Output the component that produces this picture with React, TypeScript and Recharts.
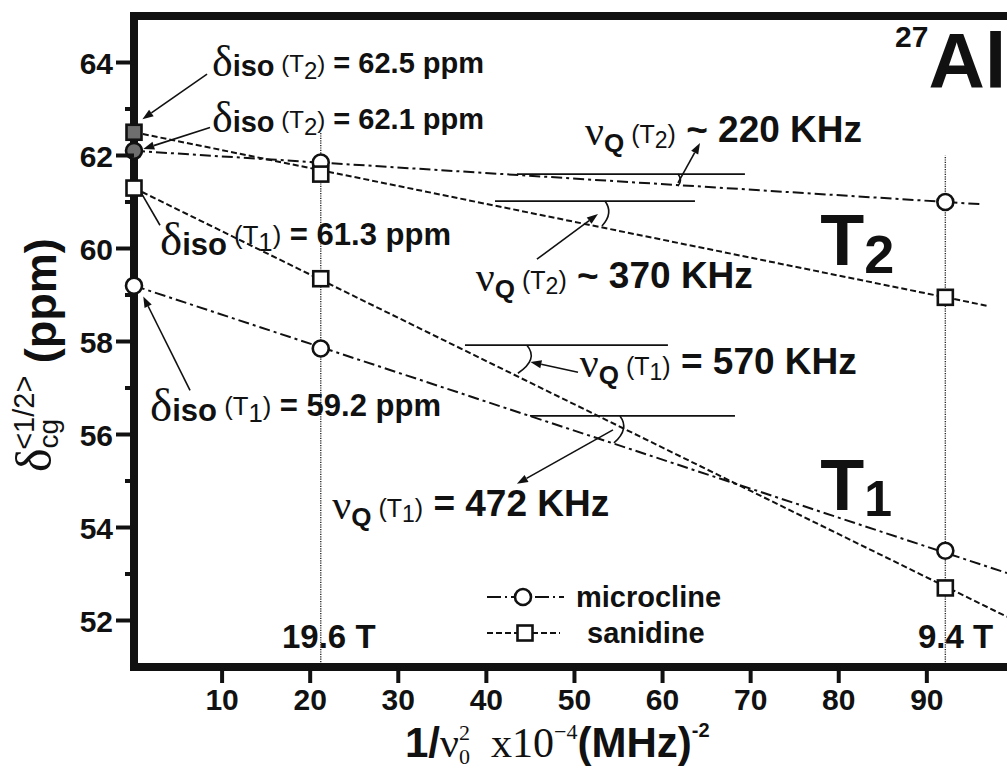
import React from 'react';
import {
  ComposedChart,
  Line,
  Scatter,
  XAxis,
  YAxis,
  ReferenceLine,
  ReferenceDot,
  Legend,
} from 'recharts';

const SANS = '"Liberation Sans", Arial, Helvetica, sans-serif';
const SERIF = '"Liberation Serif", "Times New Roman", serif';
const INK = '#111111';
const GREY = '#6e6e6e';

// 1/nu0^2 (x10^-4 MHz^-2): infinite field, 19.6 T, 9.4 T
const invField = [0, 21.2, 92.1];
const fieldNames = ['19.6 T', '9.4 T'];
const fieldLineTop = [62.5, 62.0];

// centre of gravity shifts (ppm)
const microclineT1 = [59.2, 57.85, 53.5];
const microclineT2 = [62.1, 61.85, 61.0];
const sanidineT1 = [61.3, 59.35, 52.7];
const sanidineT2 = [62.5, 61.6, 58.95];

// straight-line fits (end points)
const fitMicT1X = [0, 99.1];
const fitMicT1Y = [59.2, 53.02];
const fitMicT2X = [0, 96.4];
const fitMicT2Y = [62.1, 60.95];
const fitSanT1X = [0, 99.1];
const fitSanT1Y = [61.3, 52.08];
const fitSanT2X = [0, 96.8];
const fitSanT2Y = [62.5, 58.77];

const xTicks = [10, 20, 30, 40, 50, 60, 70, 80, 90];
const yTicks = [52, 53, 54, 55, 56, 57, 58, 59, 60, 61, 62, 63, 64];

const DASH_DOT = '11 4 3 4';
const DASHED = '6 3';

const points = (ys: number[], filledFirst: boolean) =>
  invField.map((x, i) => ({ x, y: ys[i], filled: filledFirst && i === 0 }));
const fitLine = (xs: number[], ys: number[]) => xs.map((x, i) => ({ x, y: ys[i] }));

const CircleMark = (p: any) => (
  <circle
    cx={p.cx}
    cy={p.cy}
    r={8}
    fill={p.payload && p.payload.filled ? GREY : '#ffffff'}
    stroke={INK}
    strokeWidth={2.6}
  />
);
const SquareMark = (p: any) => (
  <rect
    x={p.cx - 7.5}
    y={p.cy - 7.5}
    width={15}
    height={15}
    fill={p.payload && p.payload.filled ? GREY : '#ffffff'}
    stroke={INK}
    strokeWidth={2.6}
  />
);

type Run = { t: string; size: number; dy?: number; serif?: boolean; weight?: string; dx?: number };

const Rich = ({ cx, cy, runs }: { cx: number; cy: number; runs: Run[] }) => (
  <text x={cx} y={cy} fill={INK} style={{ whiteSpace: 'pre' }}>
    {runs.map((r, i) => (
      <tspan
        key={i}
        y={cy + (r.dy || 0)}
        dx={r.dx}
        fontSize={r.size}
        fontFamily={r.serif ? SERIF : SANS}
        fontWeight={r.weight || 'bold'}
      >
        {r.t}
      </tspan>
    ))}
  </text>
);

const isoRuns = (site: string, value: number, shift = 0, k = 1): Run[] => [
  { t: 'δ', size: 44 * k, serif: true, weight: 'normal', dy: 0 },
  { t: 'iso', size: 29 * k, dy: 0 },
  { t: ' (T', size: 24 * k, weight: 'normal', dy: -4 - shift },
  { t: site, size: 24 * k, weight: 'normal', dy: 3 - shift },
  { t: ')', size: 24 * k, weight: 'normal', dy: -4 - shift },
  { t: ` = ${value.toFixed(1)} ppm`, size: 29 * k, dy: -3 - shift },
];

const nuRuns = (site: string, rest: string): Run[] => [
  { t: 'ν', size: 42, serif: true, weight: 'normal', dy: 3 },
  { t: 'Q', size: 26, dy: 10 },
  { t: ' (T', size: 25, weight: 'normal', dy: 1 },
  { t: site, size: 23, weight: 'normal', dy: 6 },
  { t: ')', size: 25, weight: 'normal', dy: 1 },
  { t: rest, size: 37, dy: 0 },
];

// text notes placed in data space: [x, y, runs]
const notes: [number, number, Run[]][] = [
  [8.85, 63.7, isoRuns('2', sanidineT2[0])],
  [8.85, 62.51, isoRuns('2', microclineT2[0])],
  [2.95, 59.85, isoRuns('1', sanidineT1[0], 7, 1.07)],
  [1.82, 56.3, isoRuns('1', microclineT1[0], 2, 1.07)],
  [51.2, 62.3, nuRuns('2', ' ~ 220 KHz')],
  [38.8, 59.15, nuRuns('2', ' ~ 370 KHz')],
  [50.6, 57.3, nuRuns('1', ' = 570 KHz')],
  [22.5, 54.25, nuRuns('1', ' = 472 KHz')],
  [77.9, 59.65, [{ t: 'T', size: 72 }, { t: '2', size: 54, dy: 8 }]],
  [77.9, 54.38, [{ t: 'T', size: 72 }, { t: '1', size: 50, dy: 6 }]],
  [86.4, 63.46, [{ t: '27', size: 30, dy: -41 }, { t: 'Al', size: 78 }]],
  [16.8, 51.41, [{ t: fieldNames[0], size: 33 }]],
  [89.0, 51.41, [{ t: fieldNames[1], size: 33 }]],
];

// pointer lines: [x1, y1, x2, y2, arrowhead]
const pointers: [number, number, number, number, boolean][] = [
  [8.29, 63.75, 0.95, 62.78, true],
  [8.63, 62.6, 1.05, 62.14, true],
  [2.95, 60.5, 0.8, 61.2, false],
  [6.36, 56.95, 1.05, 58.97, true],
  [61.75, 61.41, 64.25, 62.27, true],
  [45.74, 59.77, 52.67, 60.74, true],
  [50.4, 57.34, 45.0, 57.56, true],
  [54.37, 56.1, 43.47, 54.94, true],
];

// horizontal reference strokes for the slope angles: [xStart, xEnd, y]
const levels: [number, number, number][] = [
  [43.47, 69.35, 61.6],
  [40.98, 63.68, 61.02],
  [37.57, 60.61, 57.92],
  [44.95, 68.22, 56.4],
];

// angle arcs: [x, y, path relative to that point]
const arcs: [number, number, string][] = [
  [61.75, 61.6, 'q 5 6 0 12'],
  [53.46, 61.02, 'q 9 12 -3 25'],
  [44.6, 57.92, 'q 12 14 -9 28'],
  [55.16, 56.4, 'q 10 13 -6 27'],
];

const arrowShape = (head: boolean) => (p: any) => {
  const { x1, y1, x2, y2 } = p;
  const a = Math.atan2(y2 - y1, x2 - x1);
  const L = 11;
  const W = 4;
  const bx = x2 - L * Math.cos(a);
  const by = y2 - L * Math.sin(a);
  const pts = `${x2},${y2} ${bx - W * Math.sin(a)},${by + W * Math.cos(a)} ${bx + W * Math.sin(a)},${by - W * Math.cos(a)}`;
  return (
    <g>
      <line x1={x1} y1={y1} x2={head ? bx : x2} y2={head ? by : y2} stroke={INK} strokeWidth={1.6} />
      {head && <polygon points={pts} fill={INK} />}
    </g>
  );
};

const XTick = (p: any) => {
  const { x, y, payload } = p;
  return (
    <g>
      <line x1={x} y1={y} x2={x} y2={y + 16} stroke={INK} strokeWidth={4} />
      <text x={x} y={y + 43} textAnchor="middle" fontFamily={SANS} fontWeight="bold" fontSize={30} fill={INK}>
        {payload.value}
      </text>
    </g>
  );
};

const YTick = (p: any) => {
  const { x, y, payload } = p;
  const major = payload.value % 2 === 0;
  return (
    <g>
      <line x1={x - (major ? 18 : 9)} y1={y} x2={x} y2={y} stroke={INK} strokeWidth={4} />
      {major && (
        <text x={x - 21} y={y + 11} textAnchor="end" fontFamily={SANS} fontWeight="bold" fontSize={30} fill={INK}>
          {payload.value}
        </text>
      )}
    </g>
  );
};

const XTitle = (p: any) => {
  const vb = p.viewBox;
  const x0 = vb.x + 271;
  const y0 = vb.y + 90;
  return (
    <text x={x0} y={y0} fill={INK} style={{ whiteSpace: 'pre' }}>
      <tspan fontFamily={SANS} fontWeight="bold" fontSize={42} y={y0}>1/</tspan>
      <tspan fontFamily={SERIF} fontSize={42} y={y0}>ν</tspan>
      <tspan fontFamily={SERIF} fontSize={22} y={y0 - 17}>2</tspan>
      <tspan fontFamily={SERIF} fontSize={22} dx={-11} y={y0 + 7}>0</tspan>
      <tspan fontFamily={SERIF} fontSize={42} y={y0}>{'  x10'}</tspan>
      <tspan fontFamily={SERIF} fontSize={22} y={y0 - 18}>−4</tspan>
      <tspan fontFamily={SANS} fontWeight="bold" fontSize={42} y={y0}>(MHz)</tspan>
      <tspan fontFamily={SANS} fontWeight="bold" fontSize={20} y={y0 - 20}>-2</tspan>
    </text>
  );
};

const YTitle = () => (
  <text transform="translate(56,472) rotate(-90)" x={0} y={0} fill={INK} style={{ whiteSpace: 'pre' }}>
    <tspan fontFamily={SERIF} fontSize={50} y={-5}>δ</tspan>
    <tspan fontFamily={SANS} fontSize={28} y={2}>cg</tspan>
    <tspan fontFamily={SANS} fontSize={29} dx={-31} y={-22}>{'<1/2>'}</tspan>
    <tspan fontFamily={SANS} fontWeight="bold" fontSize={45} y={0}>{' (ppm)'}</tspan>
  </text>
);

const LegendBox = () => (
  <svg width={270} height={80} style={{ display: 'block', overflow: 'visible' }}>
    <line x1={7} y1={22} x2={84} y2={22} stroke={INK} strokeWidth={2} strokeDasharray="14 4 2 4" />
    <circle cx={43} cy={22} r={8} fill="#ffffff" stroke={INK} strokeWidth={2.6} />
    <text x={96} y={32} fontFamily={SANS} fontWeight="bold" fontSize={29} fill={INK}>microcline</text>
    <line x1={7} y1={58} x2={80} y2={58} stroke={INK} strokeWidth={2} strokeDasharray={DASHED} />
    <rect x={37.5} y={50.5} width={15} height={15} fill="#ffffff" stroke={INK} strokeWidth={2.6} />
    <text x={107} y={68} fontFamily={SANS} fontWeight="bold" fontSize={29} fill={INK}>sanidine</text>
  </svg>
);

export default function App() {
  return (
    <div style={{ position: 'absolute', left: 0, top: 0, width: 1007, height: 773, background: '#ffffff', overflow: 'hidden' }}>
      <ComposedChart width={1007} height={773} margin={{ top: 16, right: 0, bottom: 46, left: 34 }}>
        <XAxis
          dataKey="x"
          type="number"
          domain={[0, 99.1]}
          ticks={xTicks}
          interval={0}
          tick={<XTick />}
          tickLine={false}
          tickSize={0}
          tickMargin={0}
          height={60}
          axisLine={{ stroke: INK, strokeWidth: 8, strokeLinecap: 'square' }}
          label={{ content: XTitle }}
        />
        <YAxis
          type="number"
          domain={[51, 65]}
          ticks={yTicks}
          interval={0}
          tick={<YTick />}
          tickLine={false}
          tickSize={0}
          tickMargin={0}
          width={100}
          axisLine={{ stroke: INK, strokeWidth: 8, strokeLinecap: 'square' }}
          label={{ content: YTitle }}
        />
        <ReferenceLine y={65} stroke={INK} strokeWidth={8} />

        {invField.slice(1).map((x, i) => (
          <ReferenceLine
            key={`field-${i}`}
            segment={[{ x, y: 51 }, { x, y: fieldLineTop[i] }]}
            stroke="#2a2a2a"
            strokeWidth={1.4}
            strokeDasharray="1.2 1.2"
          />
        ))}

        {levels.map(([xa, xb, y], i) => (
          <ReferenceLine key={`lvl-${i}`} segment={[{ x: xa, y }, { x: xb, y }]} stroke={INK} strokeWidth={1.8} />
        ))}
        {arcs.map(([x, y, d], i) => (
          <ReferenceDot
            key={`arc-${i}`}
            x={x}
            y={y}
            r={0}
            shape={(p: any) => <path d={`M${p.cx},${p.cy} ${d}`} fill="none" stroke={INK} strokeWidth={1.6} />}
          />
        ))}
        {pointers.map(([xa, ya, xb, yb, head], i) => (
          <ReferenceLine
            key={`ptr-${i}`}
            segment={[{ x: xa, y: ya }, { x: xb, y: yb }]}
            stroke={INK}
            shape={arrowShape(head)}
          />
        ))}

        <Line data={fitLine(fitMicT2X, fitMicT2Y)} dataKey="y" type="linear" stroke={INK} strokeWidth={2} strokeDasharray={DASH_DOT} dot={false} activeDot={false} isAnimationActive={false} legendType="none" />
        <Line data={fitLine(fitMicT1X, fitMicT1Y)} dataKey="y" type="linear" stroke={INK} strokeWidth={2} strokeDasharray={DASH_DOT} dot={false} activeDot={false} isAnimationActive={false} legendType="none" />
        <Line data={fitLine(fitSanT2X, fitSanT2Y)} dataKey="y" type="linear" stroke={INK} strokeWidth={2} strokeDasharray={DASHED} dot={false} activeDot={false} isAnimationActive={false} legendType="none" />
        <Line data={fitLine(fitSanT1X, fitSanT1Y)} dataKey="y" type="linear" stroke={INK} strokeWidth={2} strokeDasharray={DASHED} dot={false} activeDot={false} isAnimationActive={false} legendType="none" />

        <Scatter name="microcline T2" data={points(microclineT2, true)} dataKey="y" shape={CircleMark} isAnimationActive={false} />
        <Scatter name="microcline T1" data={points(microclineT1, false)} dataKey="y" shape={CircleMark} isAnimationActive={false} />
        <Scatter name="sanidine T2" data={points(sanidineT2, true)} dataKey="y" shape={SquareMark} isAnimationActive={false} />
        <Scatter name="sanidine T1" data={points(sanidineT1, false)} dataKey="y" shape={SquareMark} isAnimationActive={false} />

        {notes.map(([x, y, runs], i) => (
          <ReferenceDot key={`note-${i}`} x={x} y={y} r={0} shape={(p: any) => <Rich cx={p.cx} cy={p.cy} runs={runs} />} />
        ))}

        <Legend
          layout="vertical"
          align="center"
          verticalAlign="middle"
          wrapperStyle={{ left: 480, top: 575, width: 270, height: 80 }}
          content={LegendBox}
        />
      </ComposedChart>
    </div>
  );
}
